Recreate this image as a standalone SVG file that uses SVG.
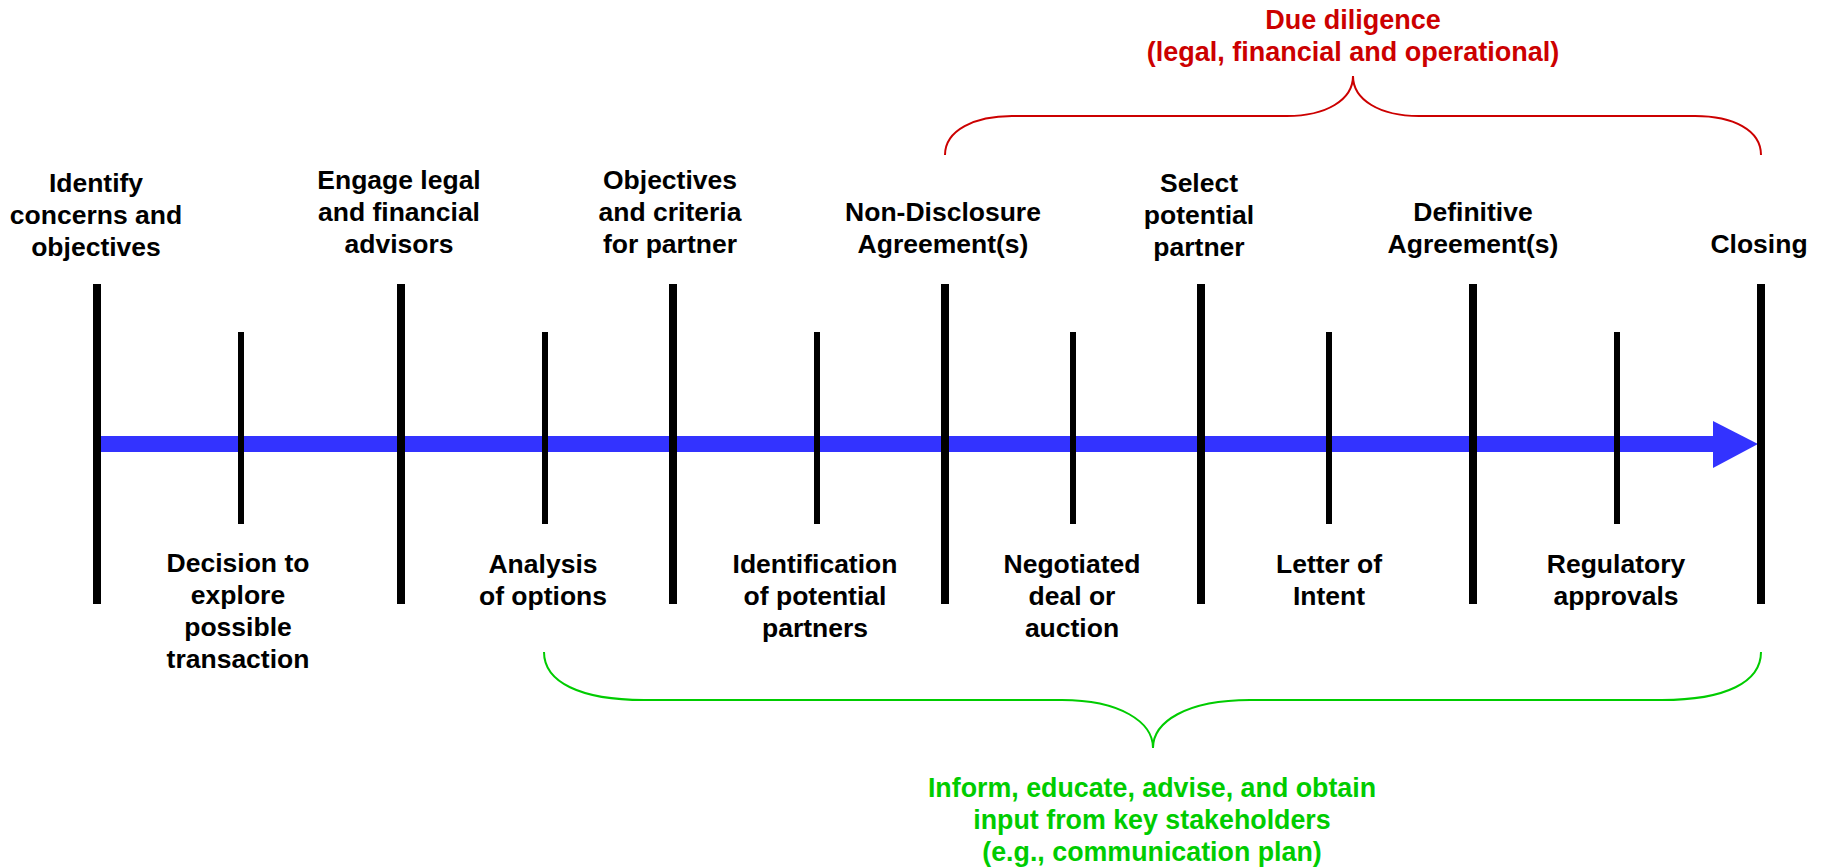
<svg xmlns="http://www.w3.org/2000/svg" width="1825" height="868" viewBox="0 0 1825 868">
  <style>
    text { font-family: "Liberation Sans", Arial, sans-serif; font-weight: bold; font-size: 26.5px; text-anchor: middle; }
    .lbl { fill: #000000; }
    .red { fill: #CC0000; font-size: 27px; }
    .green { fill: #00CC00; font-size: 26.8px; }
    .tall { stroke: #000000; stroke-width: 8; }
    .short { stroke: #000000; stroke-width: 6; }
    .brace { fill: none; stroke-width: 2; }
  </style>
  <rect width="1825" height="868" fill="#ffffff"/>

  <!-- timeline axis -->
  <g id="connectors">
    <line x1="100" y1="444" x2="1716" y2="444" stroke="#3333FF" stroke-width="16"/>
    <polygon points="1713,421 1758,444 1713,468" fill="#3333FF"/>
  </g>

  <!-- milestones above the axis (tall ticks) -->
  <g id="m-identify">
    <line class="tall" x1="97" y1="284" x2="97" y2="604"/>
    <text class="lbl" x="96" y="192">Identify</text>
    <text class="lbl" x="96" y="224">concerns and</text>
    <text class="lbl" x="96" y="256">objectives</text>
  </g>
  <g id="m-engage">
    <line class="tall" x1="401" y1="284" x2="401" y2="604"/>
    <text class="lbl" x="399" y="189">Engage legal</text>
    <text class="lbl" x="399" y="221">and financial</text>
    <text class="lbl" x="399" y="253">advisors</text>
  </g>
  <g id="m-objectives">
    <line class="tall" x1="673" y1="284" x2="673" y2="604"/>
    <text class="lbl" x="670" y="189">Objectives</text>
    <text class="lbl" x="670" y="221">and criteria</text>
    <text class="lbl" x="670" y="253">for partner</text>
  </g>
  <g id="m-nda">
    <line class="tall" x1="945" y1="284" x2="945" y2="604"/>
    <text class="lbl" x="943" y="221">Non-Disclosure</text>
    <text class="lbl" x="943" y="253">Agreement(s)</text>
  </g>
  <g id="m-select">
    <line class="tall" x1="1201" y1="284" x2="1201" y2="604"/>
    <text class="lbl" x="1199" y="192">Select</text>
    <text class="lbl" x="1199" y="224">potential</text>
    <text class="lbl" x="1199" y="256">partner</text>
  </g>
  <g id="m-definitive">
    <line class="tall" x1="1473" y1="284" x2="1473" y2="604"/>
    <text class="lbl" x="1473" y="221">Definitive</text>
    <text class="lbl" x="1473" y="253">Agreement(s)</text>
  </g>
  <g id="m-closing">
    <line class="tall" x1="1761" y1="284" x2="1761" y2="604"/>
    <text class="lbl" x="1759" y="253">Closing</text>
  </g>

  <!-- milestones below the axis (short ticks) -->
  <g id="m-decision">
    <line class="short" x1="241" y1="332" x2="241" y2="524"/>
    <text class="lbl" x="238" y="572">Decision to</text>
    <text class="lbl" x="238" y="604">explore</text>
    <text class="lbl" x="238" y="636">possible</text>
    <text class="lbl" x="238" y="668">transaction</text>
  </g>
  <g id="m-analysis">
    <line class="short" x1="545" y1="332" x2="545" y2="524"/>
    <text class="lbl" x="543" y="573">Analysis</text>
    <text class="lbl" x="543" y="605">of options</text>
  </g>
  <g id="m-identification">
    <line class="short" x1="817" y1="332" x2="817" y2="524"/>
    <text class="lbl" x="815" y="573">Identification</text>
    <text class="lbl" x="815" y="605">of potential</text>
    <text class="lbl" x="815" y="637">partners</text>
  </g>
  <g id="m-negotiated">
    <line class="short" x1="1073" y1="332" x2="1073" y2="524"/>
    <text class="lbl" x="1072" y="573">Negotiated</text>
    <text class="lbl" x="1072" y="605">deal or</text>
    <text class="lbl" x="1072" y="637">auction</text>
  </g>
  <g id="m-loi">
    <line class="short" x1="1329" y1="332" x2="1329" y2="524"/>
    <text class="lbl" x="1329" y="573">Letter of</text>
    <text class="lbl" x="1329" y="605">Intent</text>
  </g>
  <g id="m-regulatory">
    <line class="short" x1="1617" y1="332" x2="1617" y2="524"/>
    <text class="lbl" x="1616" y="573">Regulatory</text>
    <text class="lbl" x="1616" y="605">approvals</text>
  </g>

  <!-- due diligence span -->
  <g id="due-diligence">
    <path class="brace" stroke="#CC0000" d="M945,155 C945,130 975,116 1012,116 L1287,116 C1326,116 1353,100 1353,76 C1353,100 1380,116 1419,116 L1695,116 C1733,116 1761,130 1761,155"/>
    <text class="red" x="1353" y="29">Due diligence</text>
    <text class="red" x="1353" y="61">(legal, financial and operational)</text>
  </g>

  <!-- stakeholder communication span -->
  <g id="stakeholders">
    <path class="brace" stroke="#00CC00" d="M544,652 C544,682 580,700 644,700 L1062,700 C1120,700 1153,722 1153,748 C1153,722 1186,700 1250,700 L1662,700 C1726,700 1761,682 1761,652"/>
    <text class="green" x="1152" y="797">Inform, educate, advise, and obtain</text>
    <text class="green" x="1152" y="829">input from key stakeholders</text>
    <text class="green" x="1152" y="861">(e.g., communication plan)</text>
  </g>
</svg>
